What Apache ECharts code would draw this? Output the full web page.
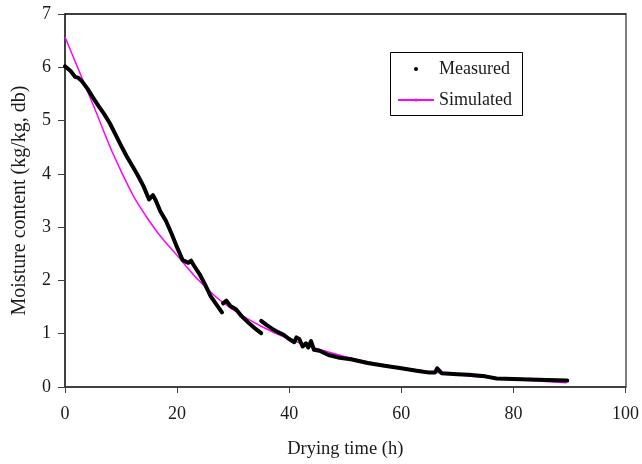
<!DOCTYPE html>
<html>
<head>
<meta charset="utf-8">
<script src="https://cdn.jsdelivr.net/npm/echarts@6/dist/echarts.min.js"></script>
<style>
  html, body { margin: 0; padding: 0; background: #fff; }
  #chart { width: 642px; height: 464px; }
</style>
</head>
<body>
<div id="chart"></div>
<script>
// simulated model curve, [time h, moisture]
const simulated = [
  [0, 6.57], [5, 5.3], [10, 4.05], [15, 3.12], [20, 2.47], [25, 1.88],
  [30, 1.45], [35, 1.14], [40, 0.9], [45, 0.72], [50, 0.57], [55, 0.45],
  [60, 0.36], [65, 0.29], [70, 0.23], [75, 0.18], [80, 0.14], [85, 0.11], [89.5, 0.08]
]

// measured data comes in three runs with gaps between them
const measuredRun1 = [
  [0, 6.02], [1, 5.93], [1.8, 5.82], [2.4, 5.8], [3, 5.74], [4, 5.6], [5, 5.43],
  [6, 5.27], [7, 5.12], [8, 4.95], [9, 4.74], [10, 4.53], [11, 4.33], [12, 4.15],
  [13, 3.97], [14, 3.77], [15, 3.52], [15.3, 3.5], [15.7, 3.6], [16.2, 3.5],
  [17, 3.3], [18, 3.12], [19, 2.88], [20, 2.62], [21, 2.38], [22, 2.33],
  [22.5, 2.37], [23, 2.28], [24, 2.12], [25, 1.92], [26, 1.7], [27, 1.55], [28, 1.4]
]
const measuredRun2 = [
  [28.2, 1.57], [28.8, 1.62], [29.5, 1.52], [30.5, 1.46], [31.5, 1.33],
  [32.9, 1.19], [34, 1.09], [35, 1.01]
]
const measuredRun3 = [
  [35, 1.24], [36, 1.16], [37, 1.09], [38, 1.03], [39, 0.98], [40, 0.9],
  [40.9, 0.84], [41.3, 0.93], [41.8, 0.9], [42.4, 0.76], [43, 0.82], [43.4, 0.74],
  [43.9, 0.86], [44.4, 0.7], [45.4, 0.68], [47, 0.6], [49, 0.55], [51, 0.52],
  [54, 0.45], [57, 0.4], [60, 0.35], [63, 0.3], [65, 0.27], [66, 0.27],
  [66.4, 0.35], [67.2, 0.26], [70, 0.24], [72, 0.23], [75, 0.2], [77, 0.16],
  [80, 0.15], [83, 0.14], [86, 0.13], [89.6, 0.12]
]

const font = 'Liberation Serif'
const textColor = '#1a1a1a'

const chart = echarts.init(document.getElementById('chart'))

function measuredSeries(data) {
  return {
    name: 'Measured',
    type: 'line',
    data: data,
    symbol: 'none',
    lineStyle: { color: '#000', width: 4, cap: 'round', join: 'round' },
    itemStyle: { color: '#000' },
    z: 3
  }
}

const option = {
  animation: false,
  backgroundColor: '#fff',
  grid: { left: 65, right: 15, top: 14, bottom: 75 },
  legend: {
    left: 392,
    top: 54,
    orient: 'vertical',
    itemWidth: 36,
    itemHeight: 4,
    itemGap: 11,
    textStyle: { fontFamily: font, fontSize: 18, color: textColor, lineHeight: 20 },
    data: [
      { name: 'Measured', icon: 'circle', itemStyle: { color: '#000' } },
      { name: 'Simulated' }
    ]
  },
  graphic: [{
    type: 'rect',
    shape: { x: 390.5, y: 52.5, width: 132, height: 63 },
    style: { fill: 'none', stroke: '#000', lineWidth: 1 },
    z: 10
  }],
  xAxis: [{
    type: 'value',
    min: 0,
    max: 100,
    interval: 20,
    name: 'Drying time (h)',
    nameLocation: 'middle',
    nameGap: 53,
    nameTextStyle: { fontFamily: font, fontSize: 18.5, color: textColor },
    axisLine: { show: true, onZero: false, lineStyle: { color: '#404040', width: 2 } },
    axisTick: { show: true, inside: false, length: 6, lineStyle: { color: '#404040', width: 1 } },
    axisLabel: { fontFamily: font, fontSize: 18, color: textColor, margin: 18 },
    splitLine: { show: false }
  }, {
    type: 'value',
    position: 'top',
    min: 0,
    max: 100,
    axisLine: { show: true, onZero: false, lineStyle: { color: '#000', width: 1.5 } },
    axisTick: { show: false },
    axisLabel: { show: false },
    splitLine: { show: false }
  }],
  yAxis: [{
    type: 'value',
    min: 0,
    max: 7,
    interval: 1,
    name: 'Moisture content (kg/kg, db)',
    nameLocation: 'middle',
    nameGap: 35,
    nameTextStyle: { fontFamily: font, fontSize: 20, color: textColor },
    axisLine: { show: true, onZero: false, lineStyle: { color: '#000', width: 1.5 } },
    axisTick: { show: true, inside: false, length: 7, lineStyle: { color: '#404040', width: 1 } },
    axisLabel: { fontFamily: font, fontSize: 18, color: textColor, margin: 14 },
    splitLine: { show: false }
  }, {
    type: 'value',
    position: 'right',
    min: 0,
    max: 7,
    axisLine: { show: true, onZero: false, lineStyle: { color: '#808080', width: 2 } },
    axisTick: { show: false },
    axisLabel: { show: false },
    splitLine: { show: false }
  }],
  series: [
    {
      name: 'Simulated',
      type: 'line',
      data: simulated,
      smooth: true,
      symbol: 'none',
      lineStyle: { color: '#ff00ff', width: 1.5 },
      itemStyle: { color: '#ff00ff' },
      z: 2
    },
    measuredSeries(measuredRun1),
    measuredSeries(measuredRun2),
    measuredSeries(measuredRun3)
  ]
}

chart.setOption(option)
</script>
</body>
</html>
